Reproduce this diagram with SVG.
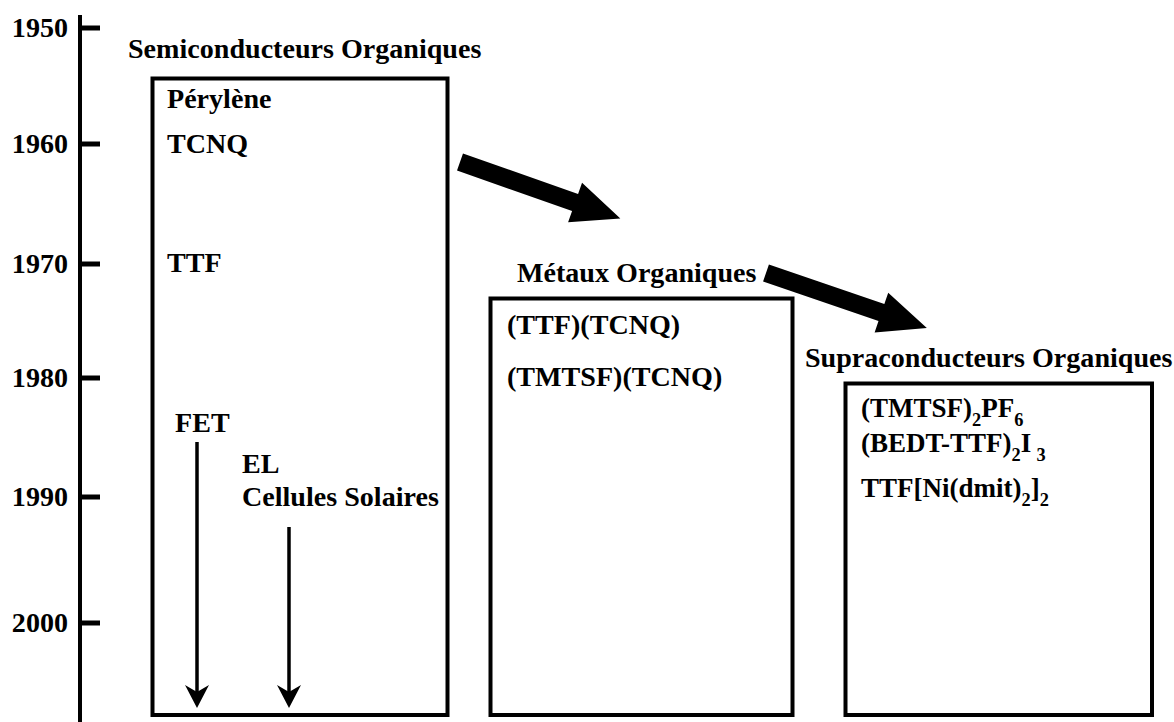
<svg xmlns="http://www.w3.org/2000/svg" width="1174" height="722" viewBox="0 0 1174 722">
<style>
text{font-family:"Liberation Serif","Times New Roman",serif;font-weight:bold;font-size:26.5px;fill:#000}
.yr{text-anchor:end}
.sub{font-size:18px}
.box{fill:none;stroke:#000;stroke-width:4}
.axis{stroke:#000;stroke-width:4}
.tick{stroke:#000;stroke-width:5}
.thin{stroke:#000;stroke-width:3.5}
</style>
<defs>
<polygon id="bigArrow" points="0,-9 122,-9 122,-21 170,0 122,21 122,9 0,9" fill="#000"/>
<polygon id="smallHead" points="0,0 -12,-23 0,-16 12,-23" fill="#000"/>
</defs>
<rect width="1174" height="722" fill="#fff"/>
<g id="axis">
<line class="axis" x1="80" y1="15" x2="80" y2="722"/>
<line class="tick" x1="78" y1="28" x2="100" y2="28"/>
<line class="tick" x1="78" y1="144" x2="100" y2="144"/>
<line class="tick" x1="78" y1="264" x2="100" y2="264"/>
<line class="tick" x1="78" y1="378" x2="100" y2="378"/>
<line class="tick" x1="78" y1="497" x2="100" y2="497"/>
<line class="tick" x1="78" y1="623" x2="100" y2="623"/>
<text class="yr" transform="translate(68,37) scale(1.06,1)">1950</text>
<text class="yr" transform="translate(68,153) scale(1.06,1)">1960</text>
<text class="yr" transform="translate(68,273) scale(1.06,1)">1970</text>
<text class="yr" transform="translate(68,387) scale(1.06,1)">1980</text>
<text class="yr" transform="translate(68,506) scale(1.06,1)">1990</text>
<text class="yr" transform="translate(68,632) scale(1.06,1)">2000</text>
</g>
<g id="semiconducteurs">
<text transform="translate(128,58) scale(1.06,1)">Semiconducteurs Organiques</text>
<rect class="box" x="152.5" y="78.5" width="295" height="636.5"/>
<text transform="translate(167,108) scale(1.06,1)">Pérylène</text>
<text transform="translate(167,153) scale(1.06,1)">TCNQ</text>
<text transform="translate(167,272) scale(1.06,1)">TTF</text>
<text transform="translate(175,432) scale(1.06,1)">FET</text>
<text transform="translate(242,473) scale(1.06,1)">EL</text>
<text transform="translate(242,506) scale(1.06,1)">Cellules Solaires</text>
</g>
<g id="metaux">
<text transform="translate(517,282) scale(1.06,1)">Métaux Organiques</text>
<rect class="box" x="490.5" y="298.5" width="302" height="416.5"/>
<text transform="translate(507,334) scale(1.06,1)">(TTF)(TCNQ)</text>
<text transform="translate(507,386) scale(1.06,1)">(TMTSF)(TCNQ)</text>
</g>
<g id="supraconducteurs">
<text transform="translate(805,367) scale(1.06,1)">Supraconducteurs Organiques</text>
<rect class="box" x="845.5" y="383.5" width="306.5" height="331.5"/>
<text transform="translate(861,417) scale(1.02,1)">(TMTSF)<tspan class="sub" dy="9">2</tspan><tspan dy="-9">PF</tspan><tspan class="sub" dy="9">6</tspan></text>
<text transform="translate(861,452) scale(1.02,1)">(BEDT-TTF)<tspan class="sub" dy="9">2</tspan><tspan dy="-9">I</tspan><tspan class="sub" dx="5" dy="9">3</tspan></text>
<text transform="translate(861,497) scale(1.02,1)">TTF[Ni(dmit)<tspan class="sub" dy="9">2</tspan><tspan dy="-9">]</tspan><tspan class="sub" dy="9">2</tspan></text>
</g>
<g id="connectors">
<use href="#bigArrow" transform="translate(460,162) rotate(19.4)"/>
<use href="#bigArrow" transform="translate(766,273) rotate(18.9)"/>
<line class="thin" x1="197" y1="442" x2="197" y2="695"/>
<use href="#smallHead" transform="translate(197,708)"/>
<line class="thin" x1="289" y1="527" x2="289" y2="695"/>
<use href="#smallHead" transform="translate(289,708)"/>
</g>
</svg>
